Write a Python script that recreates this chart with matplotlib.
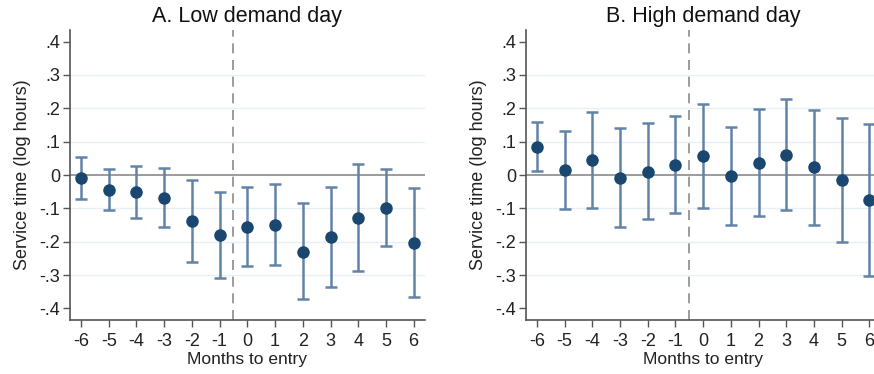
import numpy as np
import matplotlib
matplotlib.use("Agg")
import matplotlib.pyplot as plt

plt.rcParams["font.family"] = ["Liberation Sans", "DejaVu Sans"]
plt.rcParams["axes.unicode_minus"] = False

months = [-6, -5, -4, -3, -2, -1, 0, 1, 2, 3, 4, 5, 6]

# Panel A: low demand day
low_est = [-0.010, -0.045, -0.052, -0.068, -0.139, -0.181, -0.156, -0.150, -0.230, -0.187, -0.129, -0.099, -0.205]
low_hi = [0.053, 0.019, 0.028, 0.022, -0.014, -0.051, -0.037, -0.026, -0.084, -0.037, 0.033, 0.017, -0.039]
low_lo = [-0.072, -0.105, -0.129, -0.155, -0.262, -0.310, -0.272, -0.270, -0.373, -0.336, -0.287, -0.213, -0.367]

# Panel B: high demand day
high_est = [0.085, 0.014, 0.044, -0.008, 0.010, 0.030, 0.057, -0.004, 0.036, 0.061, 0.023, -0.015, -0.075]
high_hi = [0.160, 0.132, 0.189, 0.142, 0.155, 0.177, 0.213, 0.144, 0.198, 0.228, 0.195, 0.172, 0.154]
high_lo = [0.012, -0.101, -0.100, -0.156, -0.133, -0.115, -0.098, -0.151, -0.124, -0.106, -0.149, -0.202, -0.304]

yticks = [-0.4, -0.3, -0.2, -0.1, 0, 0.1, 0.2, 0.3, 0.4]
ytick_labels = ["-.4", "-.3", "-.2", "-.1", "0", ".1", ".2", ".3", ".4"]

NAVY = "#1a476f"
BAR = "#6283a8"

fig = plt.figure(figsize=(8.74, 3.74), dpi=100)
panels = [
    ([0.080, 0.144, 0.406, 0.776], "A. Low demand day", low_est, low_lo, low_hi),
    ([0.6015, 0.144, 0.406, 0.776], "B. High demand day", high_est, high_lo, high_hi),
]

for pos, title, est, lo, hi in panels:
    ax = fig.add_axes(pos)
    x = np.array(months)
    est = np.array(est)
    for yv in [-0.3, -0.2, -0.1, 0.1, 0.2, 0.3]:
        ax.axhline(yv, color="#e6eff2", lw=1.0, zorder=0)
    ax.axhline(0, color="#8a8a8a", lw=1.2, zorder=1)
    ax.axvline(-0.5, color="#8a8a8a", lw=1.2, ls=(0, (6, 4)), zorder=1)
    ax.errorbar(x, est, yerr=[est - np.array(lo), np.array(hi) - est], fmt="none",
                ecolor=BAR, elinewidth=1.8, capsize=4.5, capthick=1.8, zorder=2)
    ax.plot(x, est, "o", color=NAVY, ms=8, zorder=3)
    ax.set_xlim(-6.4, 6.4)
    ax.set_ylim(-0.435, 0.435)
    ax.set_xticks(months)
    ax.set_yticks(yticks)
    ax.set_yticklabels(ytick_labels)
    ax.tick_params(axis="both", direction="out", length=5, width=1, color="#555555",
                   labelsize=13, labelcolor="#222222")
    ax.tick_params(axis="y", pad=2)
    ax.tick_params(axis="x", pad=4)
    for side in ("top", "right"):
        ax.spines[side].set_visible(False)
    for side in ("left", "bottom"):
        ax.spines[side].set_color("#555555")
        ax.spines[side].set_linewidth(1.2)
    ax.set_title(title, fontsize=15.5, color="#111111", pad=6)
    ax.set_xlabel("Months to entry", fontsize=12.5, color="#222222", labelpad=2)
    ax.set_ylabel("Service time (log hours)", fontsize=13, color="#222222", labelpad=6)

fig.savefig("out.png", dpi=100)
